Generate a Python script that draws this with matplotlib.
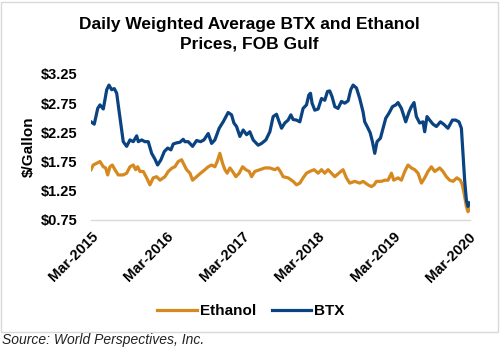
import matplotlib
matplotlib.use("Agg")
import matplotlib.pyplot as plt
from matplotlib.patches import Rectangle
from matplotlib.lines import Line2D

plt.rcParams['font.family'] = ['Liberation Sans', 'DejaVu Sans']

# Decimal-year positions and $/gallon values
btx_t = [2015.167, 2015.210, 2015.256, 2015.286, 2015.330, 2015.375, 2015.405, 2015.441, 2015.475,
         2015.507, 2015.537, 2015.573, 2015.594, 2015.639, 2015.683, 2015.727, 2015.772, 2015.793,
         2015.838, 2015.881, 2015.925, 2015.970, 2016.014, 2016.049, 2016.093, 2016.137, 2016.182,
         2016.225, 2016.256, 2016.301, 2016.344, 2016.388, 2016.410, 2016.454, 2016.512, 2016.565,
         2016.618, 2016.662, 2016.719, 2016.764, 2016.807, 2016.864, 2016.917, 2016.983, 2017.028,
         2017.059, 2017.094, 2017.138, 2017.182, 2017.227, 2017.270, 2017.314, 2017.380, 2017.425,
         2017.482, 2017.535, 2017.579, 2017.623, 2017.658, 2017.690, 2017.733, 2017.777, 2017.813,
         2017.843, 2017.888, 2017.932, 2017.975, 2018.020, 2018.051, 2018.073, 2018.094, 2018.130,
         2018.174, 2018.219, 2018.262, 2018.298, 2018.328, 2018.359, 2018.395, 2018.438, 2018.483,
         2018.527, 2018.571, 2018.606, 2018.637, 2018.682, 2018.725, 2018.769, 2018.791, 2018.835,
         2018.864, 2018.893, 2018.924, 2018.954, 2018.999, 2019.034, 2019.069, 2019.113, 2019.158,
         2019.202, 2019.232, 2019.277, 2019.334, 2019.378, 2019.409, 2019.444, 2019.475, 2019.519,
         2019.563, 2019.585, 2019.616, 2019.651, 2019.695, 2019.740, 2019.793, 2019.836, 2019.893,
         2019.952, 2019.995, 2020.039, 2020.071, 2020.092, 2020.114, 2020.137, 2020.158, 2020.180]
btx_v = [2.43, 2.39, 2.66, 2.72, 2.65, 2.98, 3.06, 2.98, 3.00,
         2.92, 2.63, 2.29, 2.09, 2.01, 2.12, 2.09, 2.19, 2.09,
         2.12, 2.09, 2.09, 1.89, 1.79, 1.69, 1.78, 1.92, 1.98,
         1.95, 2.05, 2.07, 2.08, 2.13, 2.09, 2.09, 2.01, 2.11,
         2.09, 2.12, 2.23, 2.06, 2.12, 2.32, 2.43, 2.59, 2.55,
         2.41, 2.35, 2.18, 2.29, 2.21, 2.26, 2.12, 2.03, 2.06,
         2.12, 2.26, 2.52, 2.56, 2.43, 2.32, 2.41, 2.46, 2.55,
         2.47, 2.46, 2.43, 2.66, 2.72, 2.89, 2.92, 2.75, 2.63,
         2.65, 2.83, 2.80, 2.95, 2.96, 2.86, 2.69, 2.66, 2.78,
         2.75, 2.79, 2.98, 3.06, 3.01, 2.83, 2.60, 2.43, 2.32,
         2.24, 2.09, 1.89, 2.09, 2.15, 2.32, 2.49, 2.58, 2.69,
         2.72, 2.76, 2.66, 2.43, 2.60, 2.69, 2.76, 2.52, 2.41,
         2.43, 2.26, 2.52, 2.46, 2.39, 2.35, 2.43, 2.39, 2.32,
         2.46, 2.46, 2.43, 2.32, 1.89, 1.43, 1.09, 0.98, 1.04]

eth_t = [2015.167, 2015.197, 2015.242, 2015.286, 2015.330, 2015.361, 2015.388, 2015.418, 2015.449,
         2015.484, 2015.528, 2015.594, 2015.639, 2015.683, 2015.727, 2015.758, 2015.785, 2015.815,
         2015.859, 2015.904, 2015.947, 2015.991, 2016.036, 2016.080, 2016.146, 2016.190, 2016.242,
         2016.278, 2016.322, 2016.367, 2016.401, 2016.433, 2016.477, 2016.512, 2016.565, 2016.618,
         2016.675, 2016.719, 2016.764, 2016.807, 2016.838, 2016.873, 2016.909, 2016.940, 2016.970,
         2017.006, 2017.041, 2017.085, 2017.129, 2017.174, 2017.217, 2017.261, 2017.293, 2017.336,
         2017.403, 2017.469, 2017.535, 2017.601, 2017.641, 2017.674, 2017.711, 2017.777, 2017.843,
         2017.888, 2017.932, 2017.975, 2018.020, 2018.064, 2018.121, 2018.174, 2018.219, 2018.262,
         2018.306, 2018.351, 2018.395, 2018.448, 2018.504, 2018.549, 2018.593, 2018.659, 2018.725,
         2018.769, 2018.835, 2018.880, 2018.915, 2018.946, 2019.012, 2019.056, 2019.100, 2019.145,
         2019.175, 2019.232, 2019.277, 2019.321, 2019.364, 2019.409, 2019.453, 2019.497, 2019.542,
         2019.585, 2019.629, 2019.674, 2019.717, 2019.784, 2019.827, 2019.872, 2019.916, 2019.960,
         2020.012, 2020.057, 2020.084, 2020.114, 2020.137, 2020.158, 2020.180]
eth_v = [1.61, 1.69, 1.72, 1.75, 1.66, 1.64, 1.52, 1.66, 1.69,
         1.61, 1.52, 1.52, 1.55, 1.66, 1.69, 1.61, 1.66, 1.58,
         1.58, 1.47, 1.35, 1.47, 1.49, 1.43, 1.49, 1.58, 1.64,
         1.66, 1.75, 1.78, 1.69, 1.61, 1.55, 1.43, 1.49, 1.55,
         1.61, 1.66, 1.69, 1.66, 1.75, 1.89, 1.72, 1.61, 1.55,
         1.64, 1.58, 1.49, 1.55, 1.66, 1.61, 1.58, 1.49, 1.58,
         1.61, 1.64, 1.64, 1.61, 1.64, 1.58, 1.49, 1.47, 1.41,
         1.35, 1.38, 1.47, 1.55, 1.58, 1.61, 1.55, 1.61, 1.55,
         1.61, 1.55, 1.49, 1.55, 1.61, 1.47, 1.38, 1.41, 1.38,
         1.41, 1.35, 1.32, 1.35, 1.41, 1.41, 1.43, 1.43, 1.55,
         1.43, 1.47, 1.43, 1.58, 1.69, 1.64, 1.61, 1.55, 1.38,
         1.47, 1.58, 1.66, 1.58, 1.64, 1.58, 1.49, 1.43, 1.41,
         1.47, 1.43, 1.35, 1.15, 0.98, 0.89, 0.95]

tick_pos = [2015.167, 2016.167, 2017.167, 2018.167, 2019.167, 2020.167]
tick_labels = ['Mar-2015', 'Mar-2016', 'Mar-2017', 'Mar-2018', 'Mar-2019', 'Mar-2020']
y_ticks = [0.75, 1.25, 1.75, 2.25, 2.75, 3.25]
y_labels = ['$0.75', '$1.25', '$1.75', '$2.25', '$2.75', '$3.25']

BTX_C = '#0B4382'
ETH_C = '#D6891E'

fig = plt.figure(figsize=(5.0, 3.49), dpi=100)
ax = fig.add_axes([0.182, 0.370, 0.758, 0.418])

ax.plot(eth_t, eth_v, color=ETH_C, lw=2.3, solid_joinstyle='round')
ax.plot(btx_t, btx_v, color=BTX_C, lw=2.3, solid_joinstyle='round')

ax.set_xlim(2015.167, 2020.185)
ax.set_ylim(0.75, 3.25)
ax.set_yticks(y_ticks)
ax.set_yticklabels(y_labels, fontsize=10.5, fontweight='bold')
ax.set_xticks(tick_pos)
ax.set_xticklabels(tick_labels, fontsize=10.5, fontweight='bold', rotation=45,
                   ha='right', va='top', rotation_mode='anchor')
ax.tick_params(axis='both', length=0)
ax.tick_params(axis='y', pad=10)
ax.tick_params(axis='x', pad=7)
for s in ['top', 'right', 'left']:
    ax.spines[s].set_visible(False)
ax.spines['bottom'].set_color('#D9D9D9')
ax.spines['bottom'].set_linewidth(1.0)
ax.set_ylabel('$/Gallon', fontsize=11, fontweight='bold')
ax.yaxis.set_label_coords(-0.145, 0.5)

fig.text(0.498, 0.902, 'Daily Weighted Average BTX and Ethanol\nPrices, FOB Gulf',
         ha='center', va='center', fontsize=12.5, fontweight='bold', linespacing=1.45)

handles = [Line2D([], [], color=ETH_C, lw=2.3), Line2D([], [], color=BTX_C, lw=2.3)]
fig.legend(handles, ['Ethanol', 'BTX'], loc='center', bbox_to_anchor=(0.502, 0.108),
           ncol=2, frameon=False, prop={'weight': 'bold', 'size': 11},
           handlelength=2.6, handletextpad=0.2, columnspacing=1.0)

fig.patches.append(Rectangle((0.002, 0.050), 0.993, 0.945, transform=fig.transFigure,
                             fill=False, edgecolor='#D9D9D9', lw=1.0))
fig.text(0.004, 0.026, 'Source: World Perspectives, Inc.', ha='left', va='center',
         fontsize=10, style='italic', color='#222222')

fig.savefig('out.png', dpi=100)
